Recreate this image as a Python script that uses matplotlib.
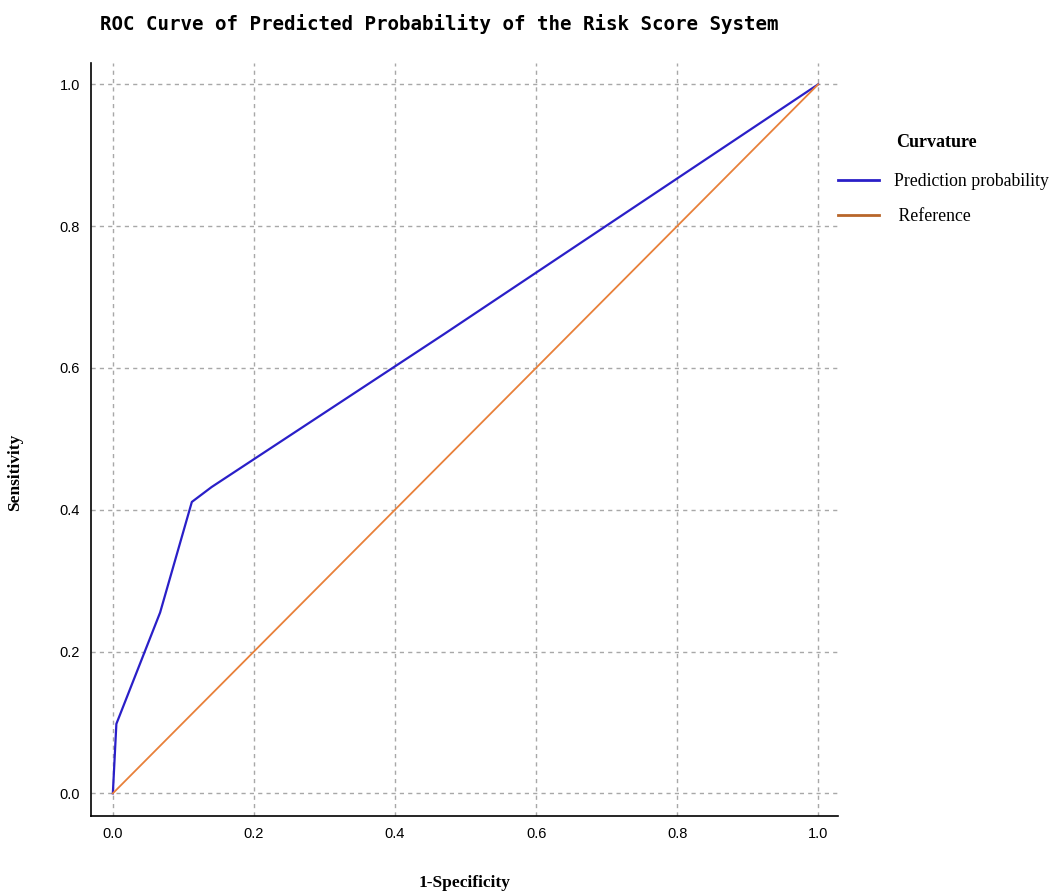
import matplotlib
matplotlib.use("Agg")
import matplotlib.pyplot as plt
import numpy as np

# ROC points
FPR = [0.0, 0.005, 0.067, 0.112, 0.14, 0.47, 1.0]
TPR = [0.0, 0.098, 0.255, 0.411, 0.432, 0.648, 1.0]
REF = [0.0, 1.0]
TICKS = [0.0, 0.2, 0.4, 0.6, 0.8, 1.0]

BLUE = "#2a1fc8"
ORANGE = "#e8803a"
SERIF = "Liberation Serif"

fig = plt.figure(figsize=(10.53, 8.94), dpi=100)
ax = fig.add_axes([0.0864, 0.0872, 0.7094, 0.8423])

# Plot curves
line_pred, = ax.plot(FPR, TPR, color=BLUE, linewidth=1.6, label="Prediction probability")
line_ref, = ax.plot(REF, REF, color=ORANGE, linewidth=1.3, label=" Reference")

ax.set_xlim(-0.031, 1.028)
ax.set_ylim(-0.032, 1.03)
ax.set_xticks(TICKS, labels=[f"{t:.1f}" for t in TICKS])
ax.set_yticks(TICKS, labels=[f"{t:.1f}" for t in TICKS])
ax.tick_params(length=0, labelsize=10.5, pad=8)
for lab in ax.get_xticklabels() + ax.get_yticklabels():
    lab.set_family("Liberation Sans")

# Spines: only left and bottom
ax.spines[["top", "right"]].set_visible(False)
ax.spines[["left", "bottom"]].set_linewidth(1.2)
ax.grid(True, color="#a8a8a8", linestyle=(0, (3, 3)), linewidth=1.0)
ax.set_axisbelow(True)

# Axis labels
fig.text(0.441, 0.0123, "1-Specificity", ha="center", va="center",
         family=SERIF, weight="bold", fontsize=12.5)
fig.text(0.014, 0.472, "Sensitivity", ha="center", va="center", rotation=90,
         family=SERIF, weight="bold", fontsize=12.5)

# Title
fig.text(0.417, 0.984, "ROC Curve of Predicted Probability of the Risk Score System",
         ha="center", va="top", family="DejaVu Sans Mono", weight="bold", fontsize=13.8)

# Legend
fig.text(0.851, 0.841, "Curvature", ha="left", va="center",
         family=SERIF, weight="bold", fontsize=13)
leg = ax.legend(handles=[line_pred, line_ref], loc="upper left",
                bbox_to_anchor=(0.7960, 0.8065), bbox_transform=fig.transFigure,
                frameon=False, handlelength=2.3, handletextpad=0.85,
                labelspacing=1.0, borderaxespad=0, borderpad=0,
                prop={"family": SERIF, "size": 12.8})
for h in leg.get_lines():
    h.set_linewidth(2.0)
leg.get_lines()[1].set_color("#b8662a")

fig.savefig("out.png", dpi=100)
